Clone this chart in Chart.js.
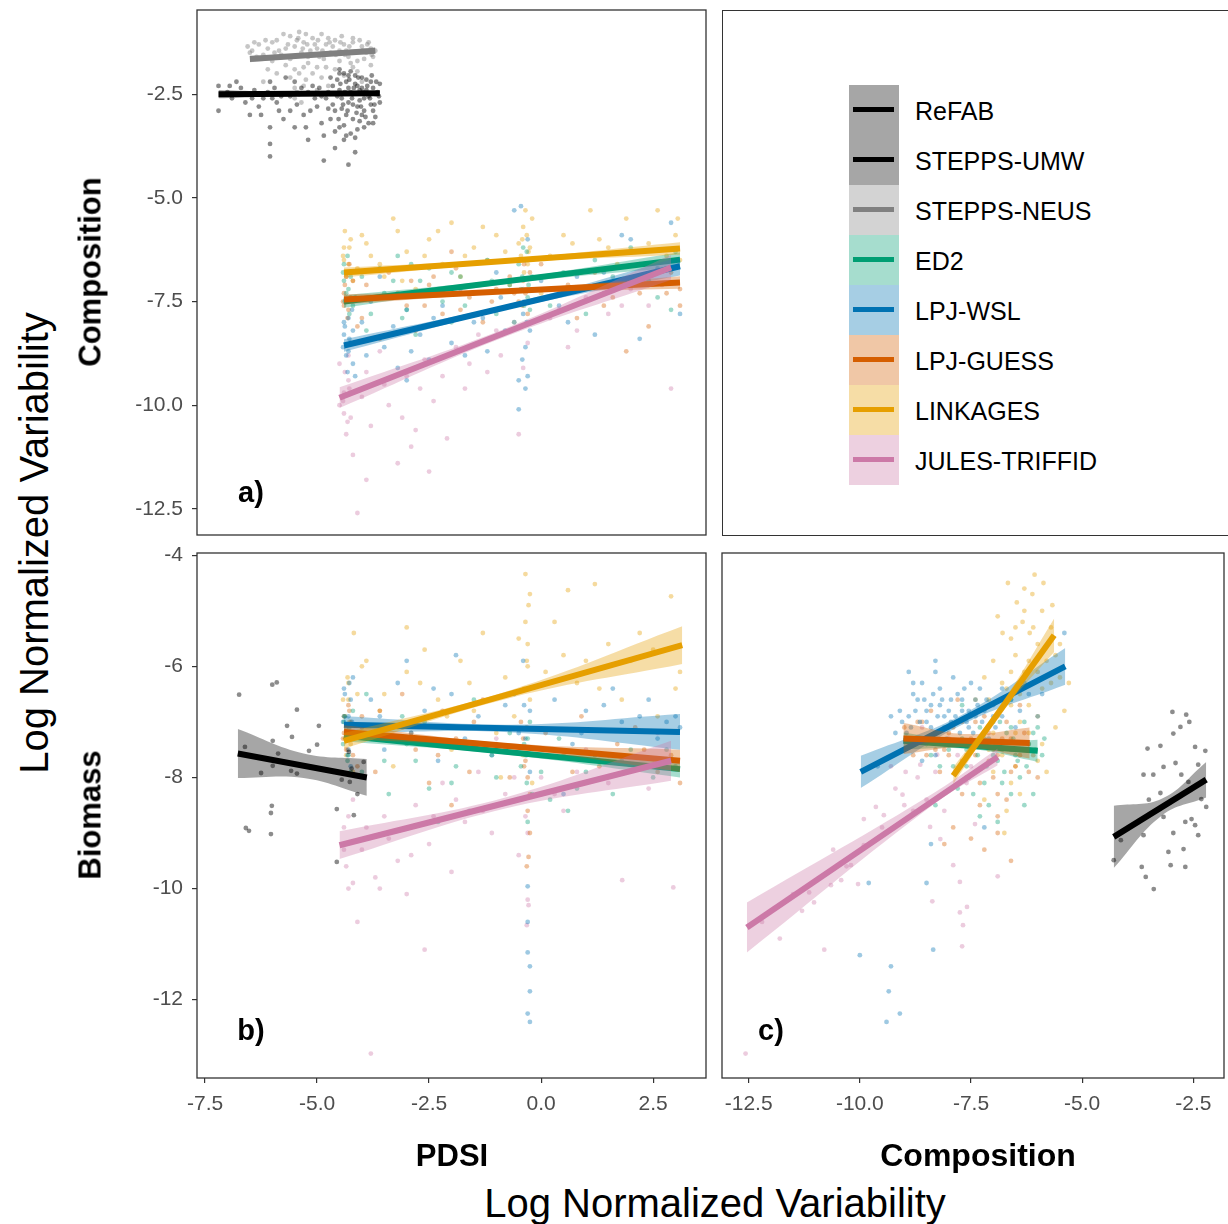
<!DOCTYPE html>
<html>
<head>
<meta charset="utf-8">
<script src="https://cdn.jsdelivr.net/npm/chart.js@4.4.1/dist/chart.umd.min.js"></script>
<style>
  body { margin: 0; background: #fff; font-family: "Liberation Sans", Arial, sans-serif; }
  #wrap { position: relative; width: 1228px; height: 1224px; overflow: hidden; }
  canvas { position: absolute; }
  .txt { position: absolute; white-space: nowrap; line-height: 1; transform: translate(-50%, -50%); }
  .rot { transform: translate(-50%, -50%) rotate(-90deg); }
  .bold { font-weight: bold; color: #000; }
  .key { position: absolute; width: 50px; height: 50px; }
  .key div { position: absolute; left: 4px; top: 22px; width: 41px; height: 5px; }
  .lab { position: absolute; font-size: 25px; line-height: 1; transform: translateY(-50%); color: #000; }
</style>
</head>
<body>
<div id="wrap">
  <canvas id="chartA" width="610" height="540" style="left:100px;top:0px"></canvas>
  <canvas id="chartB" width="610" height="600" style="left:100px;top:540px"></canvas>
  <canvas id="chartC" width="513" height="600" style="left:715px;top:540px"></canvas>
  <div style="position:absolute;left:722px;top:10px;width:520px;height:524px;border:1.3px solid #333"></div>
  <div id="legend"></div>

  <div class="txt rot" style="left:34px;top:543px;font-size:40px">Log Normalized Variability</div>
  <div class="txt rot bold" style="left:90px;top:272px;font-size:31px">Composition</div>
  <div class="txt rot bold" style="left:90px;top:815px;font-size:31px">Biomass</div>
  <div class="txt bold" style="left:452px;top:1155px;font-size:31px">PDSI</div>
  <div class="txt bold" style="left:978px;top:1155px;font-size:32px">Composition</div>
  <div class="txt" style="left:715px;top:1203px;font-size:40px">Log Normalized Variability</div>
  <div class="txt bold" style="left:251px;top:492px;font-size:29px">a)</div>
  <div class="txt bold" style="left:251px;top:1030px;font-size:29px">b)</div>
  <div class="txt bold" style="left:771px;top:1030px;font-size:29px">c)</div>
</div>
<script>
// legend order and colours
const seriesNames = ['ReFAB', 'STEPPS-UMW', 'STEPPS-NEUS', 'ED2', 'LPJ-WSL', 'LPJ-GUESS', 'LINKAGES', 'JULES-TRIFFID'];
const colors = {
  'ReFAB': '#000000', 'STEPPS-UMW': '#000000', 'STEPPS-NEUS': '#808080',
  'ED2': '#009E73', 'LPJ-WSL': '#0072B2', 'LPJ-GUESS': '#D55E00',
  'LINKAGES': '#E69F00', 'JULES-TRIFFID': '#CC79A7'
};

// axes
const pdsiTicks = [-7.5, -5, -2.5, 0, 2.5];
const compXTicks = [-12.5, -10, -7.5, -5, -2.5];
const compYTicks = [-12.5, -10, -7.5, -5, -2.5];
const bioYTicks = [-12, -10, -8, -6, -4];
const pdsiRange = [-7.68, 3.68];
const compXRange = [-13.1, -1.81];
const compYRange = [-13.13, -0.47];
const bioYRange = [-13.41, -3.96];

// ---- panel a: composition vs PDSI ----
const aNeus = [[-6.5,-1.5],[-6.3,-1.3],[-6.1,-1.4],[-5.9,-1.2],[-5.8,-1.55],[-5.6,-1.1],[-5.5,-1.35],[-5.4,-1.0],[-5.3,-1.25],[-5.2,-1.6],[-5.1,-1.15],[-5.0,-1.4],[-4.9,-1.05],[-4.8,-1.3],[-4.7,-1.5],[-4.6,-1.2],[-4.5,-1.45],[-4.4,-1.3],[-4.3,-1.6],[-4.2,-1.25],[-4.1,-1.7],[-4.0,-1.35],[-3.9,-1.5],[-3.8,-1.4],[-5.7,-1.8],[-5.4,-2.0],[-5.3,-2.3],[-5.5,-2.6],[-4.9,-2.1],[-4.6,-1.9],[-6.0,-1.7],[-6.4,-1.25],[-4.2,-1.15],[-3.75,-1.6],[-5.0,-2.4],[-6.2,-2.2],[-5.75,-1.05],[-5.15,-1.45],
  [-6.55,-1.35],[-6.2,-1.55],[-6.0,-1.25],[-5.85,-1.45],[-5.65,-1.3],[-5.45,-1.2],[-5.35,-1.5],[-5.25,-1.05],[-5.05,-1.3],[-4.95,-1.6],[-4.75,-1.15],[-4.65,-1.35],[-4.45,-1.1],[-4.35,-1.45],[-4.25,-1.75],[-4.05,-1.2],[-3.95,-1.65],[-3.85,-1.25],[-3.7,-1.45],[-5.6,-2.1],[-5.3,-1.85],[-5.1,-2.0],[-4.8,-1.85],[-4.4,-2.05],[-4.1,-1.95],[-5.5,-2.35],[-5.35,-2.7],[-4.75,-2.3],[-5.9,-2.0],[-6.1,-1.9],[-4.0,-2.2],[-3.8,-1.8],
  [-6.45,-1.45],[-6.35,-1.6],[-6.15,-1.2],[-5.95,-1.5],[-5.7,-1.4],[-5.55,-1.6],[-5.42,-1.15],[-5.32,-1.4],[-5.22,-1.3],[-5.12,-1.55],[-4.98,-1.2],[-4.88,-1.45],[-4.72,-1.25],[-4.58,-1.55],[-4.48,-1.25],[-4.38,-1.55],[-4.28,-1.35],[-4.15,-1.5],[-3.98,-1.45],[-3.88,-1.3],[-3.78,-1.55],[-5.5,-1.9],[-5.25,-2.15],[-5.45,-2.45],[-5.2,-1.75],[-4.85,-1.65],[-4.5,-1.7],[-5.6,-1.65],[-5.0,-1.85],[-4.2,-1.85]];
const aUmw = [[-7.2,-2.3],[-7.2,-2.9],[-6.8,-2.2],[-6.6,-2.7],[-6.5,-3.0],[-6.4,-2.4],[-6.2,-2.6],[-6.05,-2.2],[-6.05,-3.3],[-6.05,-3.7],[-6.05,-4.0],[-5.9,-2.7],[-5.7,-2.1],[-5.6,-2.9],[-5.4,-2.5],[-5.3,-3.0],[-5.1,-2.3],[-5.0,-2.8],[-4.9,-3.2],[-4.8,-2.6],[-4.7,-2.1],[-4.6,-2.9],[-4.5,-2.4],[-4.5,-3.3],[-4.4,-2.0],[-4.4,-3.6],[-4.35,-2.2],[-4.3,-2.7],[-4.25,-1.95],[-4.2,-2.5],[-4.2,-3.1],[-4.15,-3.9],[-4.1,-2.3],[-4.1,-2.8],[-4.0,-2.1],[-4.0,-3.0],[-3.95,-2.6],[-3.9,-2.4],[-3.85,-3.2],[-3.8,-2.2],[-3.75,-2.9],[-3.7,-2.5],[-3.6,-2.7],[-4.85,-3.5],[-4.85,-4.1],[-4.6,-3.8],[-4.3,-4.2],[-5.2,-3.6],[-4.5,-1.9],[-4.15,-2.05],[-4.05,-2.4],[-4.3,-2.35],
  [-7.0,-2.45],[-6.9,-2.6],[-6.7,-2.35],[-6.3,-2.8],[-6.1,-2.45],[-5.95,-2.35],[-5.8,-2.55],[-5.5,-2.2],[-5.45,-2.75],[-5.2,-2.45],[-5.15,-2.9],[-4.95,-2.35],[-4.75,-2.45],[-4.65,-2.75],[-4.55,-2.15],[-4.45,-2.6],[-4.45,-2.85],[-4.35,-3.0],[-4.3,-2.05],[-4.25,-2.45],[-4.2,-2.75],[-4.15,-2.25],[-4.1,-3.35],[-4.05,-2.65],[-4.0,-2.35],[-3.95,-2.9],[-3.9,-2.15],[-3.85,-2.55],[-3.8,-2.75],[-3.75,-2.35],[-3.7,-3.05],[-3.65,-2.45],[-3.6,-2.25],[-4.4,-3.25],[-4.25,-3.45],[-4.05,-3.15],[-4.6,-3.4],[-4.5,-2.0],
  [-4.55,-2.55],[-4.48,-2.25],[-4.42,-2.75],[-4.38,-2.45],[-4.32,-2.9],[-4.28,-2.15],[-4.22,-2.6],[-4.18,-2.35],[-4.12,-2.95],[-4.08,-2.1],[-4.02,-2.8],[-3.98,-2.45],[-3.92,-3.05],[-3.88,-2.3],[-3.82,-2.6],[-3.78,-2.05],[-3.72,-2.75],[-3.68,-2.2],[-3.62,-2.55],[-4.52,-3.1],[-4.35,-3.5],[-4.15,-3.55],[-3.95,-3.3],[-3.75,-3.2],[-4.65,-2.3],[-4.75,-2.85],[-4.9,-2.55],[-5.05,-2.6],[-5.35,-2.35],[-5.6,-2.55],[-5.85,-2.9],[-6.0,-2.6],[-6.45,-2.6],[-6.65,-2.5],[-6.95,-2.3],[-5.75,-3.1],[-5.25,-3.3],[-4.7,-3.1],[-6.25,-3.0],[-5.5,-3.3]];
const aEd2 = [[-4.4,-6.6],[-4.3,-7.2],[-4.2,-7.6],[-4.0,-6.9],[-3.8,-7.8],[-3.5,-7.3],[-3.2,-6.4],[-3.0,-7.7],[-2.7,-7.0],[-2.5,-6.7],[-2.2,-7.5],[-2.0,-8.0],[-1.8,-6.9],[-1.5,-7.3],[-1.2,-6.5],[-1.0,-7.8],[-0.7,-7.1],[-0.5,-6.6],[-0.4,-6.2],[-0.3,-7.4],[-0.2,-6.9],[0.2,-7.6],[0.5,-6.8],[0.9,-7.2],[1.2,-6.5],[1.6,-6.9],[2.0,-6.2],[2.4,-7.0],[2.8,-6.7],[3.0,-6.3],[-4.4,-7.0],[-3.9,-8.2],[-2.8,-8.3],[-0.6,-8.0],[1.0,-7.8],[2.9,-7.7],
  [-4.35,-7.3],[-4.25,-6.9],[-4.15,-7.4],[-3.6,-6.7],[-3.3,-7.0],[-2.9,-6.6],[-2.4,-7.3],[-1.7,-7.6],[-1.1,-7.0],[-0.45,-7.2],[-0.35,-6.5],[-0.25,-7.7],[0.7,-6.4],[1.4,-7.3],[2.2,-6.6],[2.6,-7.4],[-3.1,-7.9],[-2.0,-6.8],
  [-4.42,-6.8],[-4.38,-7.5],[-4.32,-6.4],[-4.28,-7.8],[-0.42,-6.9],[-0.38,-7.6],[-0.32,-6.3],[-0.28,-7.1]];
const aWsl = [[-4.4,-8.3],[-4.35,-8.8],[-4.3,-7.9],[-4.25,-8.5],[-4.2,-9.0],[-4.0,-8.0],[-3.8,-7.5],[-3.5,-8.6],[-3.2,-9.1],[-3.0,-7.7],[-2.7,-8.3],[-2.5,-8.9],[-2.2,-7.6],[-2.0,-8.5],[-1.8,-7.2],[-1.5,-8.0],[-1.2,-8.7],[-0.9,-7.4],[-0.6,-5.3],[-0.45,-5.2],[-0.4,-7.8],[-0.35,-8.6],[-0.3,-9.3],[-0.35,-9.6],[-0.5,-9.4],[0.0,-7.0],[0.4,-7.6],[0.8,-6.9],[1.2,-8.3],[1.6,-7.2],[2.0,-6.0],[2.2,-8.4],[2.6,-6.7],[2.9,-5.6],[3.1,-7.8],[-1.0,-6.8],[-3.6,-6.9],[1.8,-5.9],
  [-4.4,-8.0],[-4.3,-8.7],[-4.2,-8.2],[-4.15,-9.3],[-3.9,-8.8],[-3.3,-8.1],[-2.9,-8.7],[-2.4,-7.9],[-1.7,-8.8],[-1.3,-7.9],[-0.8,-8.2],[-0.4,-7.2],[-0.3,-6.0],[-0.25,-8.2],[0.6,-8.0],[1.4,-6.8],[2.4,-7.1],[-3.0,-9.4],[-0.5,-10.1],
  [-4.42,-8.6],[-4.38,-8.1],[-4.32,-9.2],[-4.28,-8.4],[-4.22,-7.7],[-0.42,-8.9],[-0.38,-7.5],[-0.32,-8.0]];
const aGuess = [[-4.4,-7.3],[-4.3,-7.7],[-4.2,-7.0],[-4.0,-7.9],[-3.7,-7.4],[-3.4,-6.8],[-3.0,-7.6],[-2.8,-8.2],[-2.5,-7.1],[-2.2,-7.8],[-1.9,-6.7],[-1.6,-7.4],[-1.3,-8.0],[-1.0,-7.2],[-0.7,-6.9],[-0.5,-7.5],[-0.4,-7.0],[-0.3,-7.8],[0.0,-6.6],[0.4,-7.3],[0.8,-7.9],[1.2,-6.8],[1.6,-7.4],[2.0,-7.0],[2.4,-8.1],[2.8,-7.3],[3.1,-7.2],[1.9,-8.7],[-3.6,-8.4],[-2.0,-6.3],
  [-4.4,-7.6],[-4.35,-6.9],[-4.25,-7.4],[-4.1,-8.1],[-3.9,-7.1],[-3.2,-7.3],[-2.6,-7.6],[-2.4,-6.9],[-1.8,-7.7],[-1.1,-7.5],[-0.6,-7.3],[-0.35,-7.3],[-0.25,-6.8],[0.6,-7.1],[1.4,-7.6],[2.2,-7.3],[2.9,-6.8],[3.1,-7.6],[-2.9,-7.0],
  [-4.42,-7.5],[-4.38,-7.1],[-4.32,-7.9],[-4.28,-6.6],[-0.42,-7.6],[-0.38,-6.6],[-0.32,-7.2]];
const aLink = [[-4.4,-6.2],[-4.3,-6.6],[-4.2,-7.0],[-4.0,-5.9],[-3.8,-6.4],[-3.5,-6.9],[-3.2,-5.8],[-3.0,-6.3],[-2.8,-7.2],[-2.5,-6.0],[-2.2,-6.6],[-2.0,-5.6],[-1.8,-6.9],[-1.5,-6.2],[-1.2,-6.5],[-1.0,-5.9],[-0.7,-7.1],[-0.5,-6.1],[-0.4,-5.7],[-0.3,-6.6],[-0.2,-5.5],[0.2,-6.4],[0.5,-5.9],[0.9,-6.8],[1.1,-5.3],[1.5,-6.2],[1.9,-5.5],[2.3,-6.6],[2.6,-5.3],[3.0,-5.9],[3.1,-6.5],[-3.3,-5.5],[0.0,-7.3],[2.0,-7.1],
  [-4.4,-6.5],[-4.35,-6.9],[-4.25,-6.0],[-4.1,-6.7],[-3.9,-6.1],[-3.6,-6.6],[-3.1,-7.0],[-2.6,-6.4],[-2.3,-5.8],[-1.7,-6.4],[-1.3,-5.7],[-0.8,-6.3],[-0.45,-6.4],[-0.35,-5.3],[-0.25,-6.2],[0.7,-6.1],[1.3,-6.0],[1.7,-6.6],[2.4,-6.1],[2.8,-6.4],[3.05,-5.5],
  [-4.42,-6.4],[-4.38,-5.8],[-4.32,-6.8],[-4.28,-6.2],[-0.42,-6.0],[-0.38,-6.8],[-0.32,-5.9],[-0.28,-6.3]];
const aJules = [[-4.5,-9.0],[-4.4,-10.2],[-4.35,-10.7],[-4.3,-9.4],[-4.2,-11.2],[-4.0,-9.8],[-3.8,-10.5],[-3.6,-8.7],[-3.4,-10.0],[-3.2,-11.4],[-3.0,-9.3],[-2.8,-10.6],[-2.6,-8.9],[-2.4,-9.9],[-2.1,-10.8],[-1.9,-8.6],[-1.7,-9.6],[-1.4,-8.3],[-1.2,-9.2],[-0.9,-8.8],[-0.6,-8.0],[-0.5,-10.7],[-0.3,-8.5],[0.2,-7.9],[0.6,-8.6],[1.0,-7.4],[1.5,-7.8],[2.0,-7.2],[2.4,-7.6],[2.9,-9.6],[-4.1,-12.6],[-3.9,-11.8],[-4.5,-10.0],[-2.5,-11.6],
  [-4.4,-9.7],[-4.3,-8.8],[-4.25,-10.3],[-3.9,-9.2],[-3.5,-9.5],[-3.1,-10.3],[-2.7,-9.6],[-2.2,-9.3],[-1.6,-9.0],[-1.0,-8.2],[-0.4,-9.1],[0.4,-7.7],[0.8,-8.2],[1.8,-7.6],[2.7,-7.1],[-2.9,-11.0],
  [-4.42,-9.9],[-4.38,-9.2],[-4.32,-10.4],[-4.28,-9.6]];
// fitted lines: name, x0, y0, x1, y1
const fitsA = [
  ['STEPPS-UMW', -7.2, -2.5, -3.6, -2.48],
  ['STEPPS-NEUS', -6.5, -1.65, -3.7, -1.45],
  ['ED2', -4.4, -7.5, 3.1, -6.49],
  ['LPJ-WSL', -4.4, -8.56, 3.1, -6.65],
  ['LPJ-GUESS', -4.4, -7.45, 3.1, -7.04],
  ['LINKAGES', -4.4, -6.8, 3.1, -6.22],
  ['JULES-TRIFFID', -4.5, -9.82, 2.9, -6.68]
];
// confidence bands: name, x, lower, upper
const bandsA = [
  ['STEPPS-UMW', [-7.2, -5.4, -3.6], [-2.6, -2.53, -2.53], [-2.4, -2.45, -2.43]],
  ['STEPPS-NEUS', [-6.5, -5.1, -3.7], [-1.73, -1.59, -1.53], [-1.57, -1.51, -1.37]],
  ['ED2', [-4.4, -0.65, 3.1], [-7.65, -7.06, -6.67], [-7.35, -6.94, -6.31]],
  ['LPJ-WSL', [-4.4, -0.65, 3.1], [-8.71, -7.66, -6.87], [-8.41, -7.54, -6.43]],
  ['LPJ-GUESS', [-4.4, -0.65, 3.1], [-7.57, -7.3, -7.19], [-7.33, -7.2, -6.89]],
  ['LINKAGES', [-4.4, -0.65, 3.1], [-6.92, -6.56, -6.37], [-6.68, -6.46, -6.07]],
  ['JULES-TRIFFID', [-4.5, -0.8, 2.9], [-10.07, -8.35, -6.98], [-9.57, -8.15, -6.38]]
];

// ---- panel b: biomass vs PDSI ----
const bRefab = [[-6.74,-6.51],[-6.0,-6.33],[-5.9,-6.29],[-5.45,-6.78],[-5.67,-7.07],[-4.96,-7.07],[-6.61,-7.45],[-5.99,-7.34],[-5.56,-7.27],[-5.0,-7.41],[-6.25,-7.92],[-5.99,-7.79],[-5.58,-7.88],[-5.45,-7.93],[-5.18,-7.52],[-5.87,-7.57],[-6.01,-8.51],[-6.03,-8.64],[-6.03,-9.02],[-6.59,-8.91],[-6.52,-8.96],[-4.56,-8.57],[-4.56,-9.52],[-4.27,-8.08],[-4.18,-8.68],[-4.45,-8.04],[-4.23,-7.84],[-3.96,-7.72],[-4.29,-7.54],[-4.1,-8.3],[-4.35,-7.3]];
const bEd2 = [[-4.4,-7.0],[-4.3,-7.6],[-4.2,-6.8],[-4.0,-7.9],[-3.7,-7.3],[-3.4,-8.3],[-3.1,-6.9],[-2.8,-7.7],[-2.5,-8.2],[-2.2,-7.1],[-1.9,-7.8],[-1.6,-8.6],[-1.3,-7.4],[-1.0,-8.0],[-0.7,-7.2],[-0.5,-8.4],[-0.35,-7.6],[-0.3,-8.8],[-0.25,-7.0],[0.0,-7.9],[0.4,-7.3],[0.8,-8.2],[1.2,-7.6],[1.6,-8.3],[2.0,-7.5],[2.5,-8.0],[3.0,-7.8],[-3.9,-6.5],[-1.5,-6.6],[0.6,-8.6],
  [-4.35,-7.3],[-4.25,-7.9],[-4.1,-7.2],[-3.5,-7.7],[-3.0,-7.4],[-2.6,-7.0],[-2.0,-8.1],[-1.1,-7.6],[-0.45,-7.8],[-0.3,-7.3],[-0.2,-8.3],[0.2,-8.4],[1.0,-7.9],[1.8,-7.7],[2.8,-7.5],[-2.3,-8.8],
  [-4.42,-7.4],[-4.38,-6.9],[-4.32,-7.7],[-4.28,-7.1],[-0.38,-7.4],[-0.32,-8.1]];
const bWsl = [[-4.4,-6.4],[-4.35,-7.3],[-4.3,-6.9],[-4.25,-7.8],[-4.2,-6.2],[-4.0,-7.1],[-3.8,-6.6],[-3.5,-7.5],[-3.2,-6.3],[-2.9,-7.2],[-2.6,-6.8],[-2.3,-7.7],[-2.0,-6.5],[-1.7,-7.3],[-1.4,-6.9],[-1.1,-7.6],[-0.8,-6.7],[-0.5,-7.2],[-0.4,-5.9],[-0.3,-6.4],[-0.25,-7.9],[-0.3,-9.96],[-0.3,-11.15],[-0.25,-11.4],[-0.25,-11.85],[-0.3,-12.25],[-0.25,-12.4],[0.3,-6.6],[0.7,-7.4],[1.0,-6.8],[1.4,-6.7],[1.8,-7.0],[2.2,-6.9],[2.6,-7.3],[3.0,-6.9],[3.1,-7.1],[-3.0,-5.9],[-1.9,-5.8],[0.5,-8.3],[2.4,-6.6],
  [-4.4,-6.9],[-4.3,-7.5],[-4.25,-6.6],[-4.2,-7.2],[-3.6,-6.9],[-3.1,-7.1],[-2.4,-6.4],[-1.5,-7.1],[-0.6,-6.5],[-0.35,-7.3],[-0.25,-6.8],[0.9,-7.2],[1.6,-6.4],[2.8,-7.0],[-0.3,-10.6],
  [-4.42,-7.0],[-4.38,-6.5],[-4.32,-7.6],[-4.28,-6.3],[-4.22,-7.0],[-0.38,-6.7],[-0.32,-7.6]];
const bGuess = [[-4.4,-7.2],[-4.3,-6.7],[-4.2,-7.6],[-4.0,-6.9],[-3.7,-7.9],[-3.4,-7.1],[-3.1,-6.5],[-2.8,-7.5],[-2.5,-8.1],[-2.2,-6.8],[-1.9,-7.3],[-1.6,-7.9],[-1.3,-6.6],[-1.0,-7.4],[-0.7,-8.0],[-0.45,-7.0],[-0.35,-7.7],[-0.3,-8.6],[-0.25,-9.0],[-0.28,-9.43],[-0.32,-9.6],[0.1,-7.2],[0.5,-7.6],[0.9,-6.9],[1.3,-7.8],[1.7,-7.4],[2.1,-7.1],[2.6,-7.9],[3.1,-8.1],[-2.0,-8.5],
  [-4.35,-7.5],[-4.25,-7.0],[-4.1,-7.8],[-3.6,-6.8],[-2.9,-7.2],[-2.3,-7.6],[-1.5,-7.0],[-0.8,-7.5],[-0.4,-7.3],[-0.3,-8.0],[-0.25,-8.3],[0.7,-7.9],[1.5,-7.6],[2.3,-7.5],[2.9,-7.6],
  [-4.42,-7.3],[-4.38,-6.9],[-4.32,-7.5],[-4.28,-6.8],[-0.38,-7.8],[-0.32,-7.1]];
const bLink = [[-4.4,-6.9],[-4.35,-7.6],[-4.3,-6.3],[-4.2,-7.9],[-4.0,-6.0],[-3.9,-5.9],[-3.7,-7.2],[-3.5,-6.5],[-3.3,-7.8],[-3.0,-6.1],[-2.8,-7.0],[-2.6,-5.7],[-2.3,-6.6],[-2.0,-7.5],[-1.8,-5.9],[-1.5,-6.8],[-1.3,-5.4],[-1.0,-7.2],[-0.8,-6.2],[-0.5,-5.5],[-0.4,-7.6],[-0.35,-4.34],[-0.25,-4.7],[-0.3,-6.0],[-0.2,-8.1],[0.3,-5.2],[0.6,-4.63],[0.8,-6.3],[1.2,-4.52],[1.5,-5.6],[1.8,-6.6],[2.2,-5.4],[2.6,-6.9],[2.9,-4.74],[3.0,-6.4],[1.0,-5.9],[-3.0,-5.3],[-0.9,-8.0],[-4.18,-5.4],
  [-4.35,-7.1],[-4.3,-6.6],[-4.25,-7.4],[-4.1,-6.5],[-3.6,-6.8],[-3.2,-7.1],[-2.7,-6.3],[-2.1,-6.9],[-1.6,-6.3],[-1.1,-6.6],[-0.6,-6.9],[-0.35,-5.2],[-0.3,-5.6],[-0.25,-6.6],[0.1,-6.1],[0.5,-5.8],[1.3,-6.4],[2.0,-5.9],[2.5,-5.7],[3.1,-6.1],
  [-4.42,-6.6],[-4.38,-7.3],[-4.32,-6.2],[-4.28,-7.0],[-0.38,-6.4],[-0.32,-5.9],[-0.28,-4.9]];
const bJules = [[-4.4,-8.9],[-4.35,-9.6],[-4.3,-10.0],[-4.2,-8.4],[-4.0,-9.3],[-3.8,-12.97],[-3.7,-9.8],[-3.5,-8.7],[-3.2,-9.5],[-3.0,-10.1],[-2.8,-8.5],[-2.5,-9.2],[-2.2,-8.1],[-2.0,-9.7],[-1.7,-8.8],[-1.4,-7.9],[-1.1,-9.0],[-0.8,-8.3],[-0.5,-9.4],[-0.35,-8.7],[-0.3,-10.2],[-0.32,-10.66],[-0.28,-10.3],[0.0,-8.0],[0.5,-8.6],[1.0,-7.5],[1.5,-8.1],[1.81,-9.85],[2.2,-7.8],[2.95,-9.98],[2.6,-7.2],[-2.6,-11.1],[-4.1,-10.6],[-1.0,-7.3],
  [-4.4,-9.3],[-4.3,-8.7],[-4.2,-9.9],[-3.9,-8.9],[-3.4,-9.1],[-2.9,-9.4],[-2.4,-8.7],[-1.9,-8.4],[-1.3,-8.6],[-0.6,-8.0],[-0.3,-9.0],[0.3,-8.3],[0.8,-7.9],[1.3,-7.7],[2.4,-8.2],[-3.6,-10.0]];
const fitsB = [
  ['ReFAB', -6.77, -7.57, -3.89, -8.0],
  ['ED2', -4.4, -7.25, 3.1, -7.85],
  ['LPJ-WSL', -4.4, -7.05, 3.1, -7.18],
  ['LPJ-GUESS', -4.4, -7.18, 3.1, -7.7],
  ['LINKAGES', -4.4, -7.34, 3.15, -5.62],
  ['JULES-TRIFFID', -4.5, -9.22, 2.9, -7.7]
];
const bandsB = [
  ['ReFAB', [-6.77, -5.3, -3.89], [-8.01, -8.01, -8.33], [-7.13, -7.57, -7.67]],
  ['ED2', [-4.4, -0.65, 3.1], [-7.35, -7.6, -8.0], [-7.15, -7.5, -7.7]],
  ['LPJ-WSL', [-4.4, -0.65, 3.1], [-7.2, -7.19, -7.5], [-6.9, -7.05, -6.86]],
  ['LPJ-GUESS', [-4.4, -0.65, 3.1], [-7.3, -7.49, -7.9], [-7.06, -7.39, -7.5]],
  ['LINKAGES', [-4.4, -0.65, 3.15], [-7.48, -6.56, -5.96], [-7.2, -6.42, -5.28]],
  ['JULES-TRIFFID', [-4.5, -0.8, 2.9], [-9.47, -8.56, -8.06], [-8.97, -8.36, -7.34]]
];

// ---- panel c: biomass vs composition ----
const cUmw = [[-2.97,-6.82],[-2.66,-6.87],[-2.79,-7.09],[-2.95,-7.21],[-2.59,-7.0],[-3.53,-7.48],[-3.24,-7.43],[-2.46,-7.45],[-2.23,-7.52],[-2.9,-7.74],[-3.17,-7.81],[-3.62,-7.95],[-3.4,-7.95],[-2.77,-7.95],[-2.39,-7.77],[-2.61,-8.08],[-3.24,-8.28],[-3.5,-8.4],[-2.32,-8.39],[-2.21,-8.53],[-2.54,-8.75],[-3.17,-8.71],[-2.68,-8.8],[-2.39,-9.04],[-2.95,-9.0],[-3.62,-9.04],[-4.13,-9.13],[-2.72,-9.29],[-3.06,-9.34],[-4.29,-9.49],[-3.66,-9.61],[-3.01,-9.58],[-2.68,-9.61],[-3.57,-9.79],[-3.39,-10.01],[-2.46,-8.86]];
const cEd2 = [[-8.5,-7.4],[-8.2,-7.8],[-8.0,-7.1],[-7.8,-8.2],[-7.6,-7.5],[-7.5,-6.9],[-7.4,-7.9],[-7.2,-7.3],[-7.1,-8.5],[-7.0,-7.0],[-6.9,-7.7],[-6.8,-8.1],[-6.7,-7.2],[-6.5,-7.6],[-6.4,-8.0],[-6.3,-7.0],[-6.2,-7.4],[-6.1,-8.3],[-6.0,-7.1],[-5.9,-7.6],[-7.7,-6.7],[-6.6,-6.6],[-7.3,-8.7],[-6.9,-8.8],[-8.3,-8.5],
  [-8.4,-7.6],[-8.1,-7.4],[-7.9,-7.8],[-7.7,-7.3],[-7.55,-8.0],[-7.35,-7.6],[-7.15,-7.8],[-6.95,-7.4],[-6.75,-7.9],[-6.55,-7.3],[-6.45,-7.7],[-6.25,-7.8],[-6.05,-7.5],[-5.85,-7.3],[-6.85,-7.0],[-7.45,-8.3],
  [-8.0,-7.5],[-7.8,-7.0],[-7.6,-7.8],[-7.3,-7.1],[-7.0,-7.6],[-6.8,-7.5],[-6.6,-7.1],[-6.3,-7.5],[-6.1,-7.2],[-7.2,-8.1],[-6.6,-8.3],[-6.3,-8.5]];
const cWsl = [[-9.2,-7.2],[-9.0,-7.5],[-8.9,-6.9],[-8.8,-6.5],[-8.7,-7.3],[-8.6,-6.3],[-8.5,-7.0],[-8.4,-6.7],[-8.3,-7.6],[-8.2,-6.4],[-8.1,-7.1],[-8.0,-6.8],[-7.9,-6.2],[-7.8,-7.4],[-7.7,-6.6],[-7.6,-7.0],[-7.4,-6.9],[-7.3,-6.4],[-7.1,-7.3],[-7.0,-6.7],[-6.8,-6.9],[-6.6,-7.5],[-6.4,-6.8],[-6.2,-6.5],[-5.9,-6.5],[-5.4,-5.4],[-9.6,-7.8],[-8.6,-7.7],[-9.4,-12.4],[-9.1,-12.25],[-9.35,-11.85],[-9.3,-11.4],[-10.0,-11.2],[-8.35,-11.1],[-8.5,-9.9],[-9.8,-9.9],[-8.4,-9.2],[-7.2,-8.9],[-8.9,-6.1],[-8.3,-5.9],
  [-9.1,-6.8],[-8.95,-7.2],[-8.75,-6.8],[-8.65,-7.0],[-8.55,-6.6],[-8.45,-7.3],[-8.35,-6.5],[-8.25,-6.9],[-8.15,-6.6],[-8.05,-7.3],[-7.95,-6.6],[-7.85,-6.9],[-7.75,-7.2],[-7.65,-6.4],[-7.55,-6.8],[-7.45,-7.2],[-7.35,-6.7],[-7.25,-7.0],[-7.15,-6.6],[-6.95,-7.1],[-6.7,-6.6],[-6.5,-7.1],[-6.3,-6.3],[-6.0,-6.9],[-5.6,-6.1],
  [-9.05,-7.0],[-8.85,-7.1],[-8.7,-6.6],[-8.5,-6.8],[-8.4,-7.1],[-8.2,-6.7],[-8.1,-6.9],[-7.95,-7.0],[-7.8,-6.5],[-7.7,-6.8],[-7.55,-7.1],[-7.4,-6.6],[-7.2,-6.8],[-7.0,-6.9],[-6.8,-6.4],[-6.6,-6.6],[-8.8,-6.3],[-8.3,-6.1],[-7.5,-6.3],[-9.3,-6.9]];
const cGuess = [[-9.0,-7.1],[-8.8,-7.6],[-8.6,-7.3],[-8.4,-6.8],[-8.2,-7.9],[-8.0,-7.2],[-7.8,-6.6],[-7.7,-7.7],[-7.5,-7.3],[-7.3,-8.1],[-7.2,-6.9],[-7.0,-7.5],[-6.9,-8.3],[-6.7,-7.0],[-6.5,-7.8],[-6.4,-6.7],[-6.2,-7.4],[-6.0,-8.0],[-7.5,-9.1],[-7.2,-9.3],[-6.9,-9.0],[-7.9,-8.9],[-8.1,-9.2],[-6.6,-9.5],
  [-8.9,-7.4],[-8.7,-7.0],[-8.5,-7.6],[-8.3,-7.2],[-8.1,-7.5],[-7.9,-7.1],[-7.6,-7.6],[-7.4,-7.0],[-7.1,-7.7],[-6.8,-7.3],[-6.6,-7.9],[-6.3,-7.2],[-6.1,-7.6],[-7.3,-8.5],[-6.9,-8.7],[-7.7,-8.3],
  [-8.6,-7.0],[-8.3,-7.5],[-8.0,-7.6],[-7.7,-7.0],[-7.4,-7.6],[-7.1,-7.2],[-6.9,-7.6],[-6.6,-7.3],[-6.4,-7.6],[-6.2,-7.9],[-7.0,-8.0],[-7.6,-8.0],[-6.7,-8.4]];
const cLink = [[-6.07,-4.35],[-6.67,-4.5],[-5.87,-4.5],[-6.47,-4.85],[-5.67,-4.9],[-6.12,-4.7],[-6.18,-5.4],[-6.79,-5.4],[-6.34,-5.2],[-5.5,-5.6],[-5.8,-5.9],[-6.5,-5.8],[-7.0,-5.9],[-7.2,-6.2],[-6.8,-6.3],[-6.3,-6.1],[-5.9,-6.4],[-6.6,-6.7],[-7.4,-6.6],[-6.0,-6.9],[-6.4,-7.0],[-7.0,-7.2],[-5.6,-7.1],[-6.2,-7.5],[-6.8,-7.6],[-5.8,-7.9],[-6.6,-8.1],[-6.7,-8.6],[-6.75,-9.0],[-7.2,-8.4],[-5.4,-6.8],
  [-6.5,-5.3],[-6.0,-5.6],[-5.7,-5.3],[-6.2,-5.9],[-6.6,-6.1],[-7.1,-6.6],[-6.4,-6.5],[-5.7,-6.3],[-6.9,-6.9],[-6.2,-7.2],[-5.9,-7.4],[-6.5,-7.8],[-7.0,-7.9],[-5.5,-6.2],[-6.9,-5.1],[-6.3,-4.6],
  [-6.3,-5.0],[-6.1,-5.3],[-5.9,-5.0],[-6.6,-5.5],[-6.0,-6.1],[-6.7,-6.4],[-6.2,-6.7],[-6.5,-7.2],[-6.0,-7.7],[-6.4,-8.3],[-7.1,-7.5],[-5.6,-5.8],[-5.3,-6.3]];
const cJules = [[-12.57,-12.97],[-12.2,-10.6],[-11.8,-10.9],[-11.5,-10.1],[-11.14,-10.07],[-11.03,-10.25],[-10.8,-11.1],[-10.65,-9.94],[-10.42,-9.85],[-10.2,-9.58],[-10.04,-9.92],[-9.91,-8.75],[-9.91,-9.22],[-9.64,-8.53],[-9.46,-8.68],[-9.2,-8.2],[-9.04,-8.31],[-8.97,-7.9],[-8.8,-8.6],[-8.64,-7.77],[-8.42,-8.89],[-8.26,-7.59],[-8.19,-9.11],[-8.37,-10.23],[-8.0,-7.3],[-7.9,-9.58],[-7.75,-9.88],[-7.75,-10.43],[-7.59,-10.33],[-7.68,-10.66],[-7.7,-11.04],[-7.41,-8.84],[-7.5,-7.8],[-7.2,-7.4],[-6.9,-9.78],[-8.6,-7.1],[-9.3,-7.8],
  [-9.0,-8.5],[-8.7,-8.0],[-8.5,-8.4],[-8.3,-7.9],[-8.1,-8.6],[-7.8,-7.6],[-7.6,-8.1],[-9.5,-8.9],[-10.3,-9.6],[-10.6,-9.3],[-11.3,-10.4]];
const fitsC = [
  ['STEPPS-UMW', -4.29, -9.07, -2.21, -8.04],
  ['ED2', -9.02, -7.34, -6.0, -7.52],
  ['LPJ-WSL', -9.98, -7.9, -5.38, -6.0],
  ['LPJ-GUESS', -9.02, -7.3, -6.18, -7.38],
  ['LINKAGES', -7.9, -7.97, -5.63, -5.44],
  ['JULES-TRIFFID', -12.54, -10.7, -6.9, -7.63]
];
const bandsC = [
  ['STEPPS-UMW', [-4.29, -3.2, -2.21], [-9.63, -8.68, -8.36], [-8.51, -8.38, -7.72]],
  ['ED2', [-9.02, -7.5, -6.0], [-7.49, -7.49, -7.72], [-7.19, -7.37, -7.32]],
  ['LPJ-WSL', [-9.98, -7.7, -5.38], [-8.19, -7.05, -6.33], [-7.61, -6.87, -5.67]],
  ['LPJ-GUESS', [-9.02, -7.6, -6.18], [-7.58, -7.46, -7.66], [-7.02, -7.22, -7.1]],
  ['LINKAGES', [-7.9, -6.8, -5.63], [-8.12, -6.82, -5.74], [-7.82, -6.66, -5.14]],
  ['JULES-TRIFFID', [-12.54, -8.3, -6.9], [-11.15, -8.46, -7.78], [-10.25, -8.26, -7.48]]
];

Chart.defaults.font.family = "'Liberation Sans', Arial, sans-serif";

function rgba(hex, a) {
  const n = parseInt(hex.slice(1), 16);
  return `rgba(${n >> 16},${(n >> 8) & 255},${n & 255},${a})`;
}

function buildDatasets(points, fits, bands) {
  const ds = [];
  points.forEach(([name, pts]) => {
    ds.push({
      type: 'scatter',
      data: pts.map(p => ({ x: p[0], y: p[1] })),
      backgroundColor: rgba(colors[name], name.startsWith('STEPPS') || name === 'ReFAB' ? 0.45 : 0.38),
      borderWidth: 0,
      pointRadius: 2.4,
      order: 1000
    });
  });
  // ggplot draws ribbon then line, group by group
  fits.forEach((f, k) => {
    const name = f[0];
    const b = bands.find(bb => bb[0] === name);
    ds.push({
      type: 'line',
      data: b[1].map((x, i) => ({ x: x, y: b[2][i] })),
      borderWidth: 0, pointRadius: 0, tension: 0.4, fill: false, order: 500 - 2 * k
    });
    ds.push({
      type: 'line',
      data: b[1].map((x, i) => ({ x: x, y: b[3][i] })),
      borderWidth: 0, pointRadius: 0, tension: 0.4, fill: '-1',
      backgroundColor: rgba(colors[name], 0.35), order: 500 - 2 * k
    });
    ds.push({
      type: 'line',
      data: [{ x: f[1], y: f[2] }, { x: f[3], y: f[4] }],
      borderColor: colors[name], borderWidth: 6, borderCapStyle: 'butt',
      pointRadius: 0, fill: false, order: 499 - 2 * k
    });
  });
  return ds;
}

const panelBorder = {
  id: 'panelBorder',
  afterDraw(chart) {
    const a = chart.chartArea, ctx = chart.ctx;
    ctx.save();
    ctx.strokeStyle = '#333333';
    ctx.lineWidth = 1.3;
    ctx.strokeRect(a.left, a.top, a.right - a.left, a.bottom - a.top);
    ctx.restore();
  }
};

function axis(range, ticks, show, digits, isX) {
  return {
    type: 'linear',
    display: show,
    min: range[0],
    max: range[1],
    afterBuildTicks: s => { s.ticks = ticks.map(v => ({ value: v })); },
    afterFit: s => {
      if (!show) return;
      if (isX) s.height = 62; else s.width = 97;
      s.paddingTop = 0; s.paddingBottom = 0; s.paddingLeft = 0; s.paddingRight = 0;
    },
    grid: { drawOnChartArea: false, drawTicks: true, tickLength: 5, color: '#333333', lineWidth: 1.2 },
    border: { display: false },
    ticks: {
      color: '#4D4D4D',
      font: { size: 21 },
      padding: isX ? 9 : 9,
      callback: v => (Math.abs(v) < 1e-9 ? 0 : v).toFixed(digits)
    }
  };
}

function makeChart(id, datasets, xAxis, yAxis, padding) {
  return new Chart(document.getElementById(id), {
    type: 'scatter',
    data: { datasets: datasets },
    options: {
      responsive: false,
      animation: false,
      layout: { padding: padding },
      plugins: { legend: { display: false }, tooltip: { enabled: false } },
      scales: { x: xAxis, y: yAxis }
    },
    plugins: [panelBorder]
  });
}

makeChart('chartA',
  buildDatasets([['STEPPS-UMW', aUmw], ['STEPPS-NEUS', aNeus], ['ED2', aEd2], ['LPJ-WSL', aWsl], ['LPJ-GUESS', aGuess], ['LINKAGES', aLink], ['JULES-TRIFFID', aJules]], fitsA, bandsA),
  axis(pdsiRange, pdsiTicks, false, 1, true),
  axis(compYRange, compYTicks, true, 1, false),
  { top: 10, right: 3, bottom: 5, left: 0 });

makeChart('chartB',
  buildDatasets([['ReFAB', bRefab], ['ED2', bEd2], ['LPJ-WSL', bWsl], ['LPJ-GUESS', bGuess], ['LINKAGES', bLink], ['JULES-TRIFFID', bJules]], fitsB, bandsB),
  axis(pdsiRange, pdsiTicks, true, 1, true),
  axis(bioYRange, bioYTicks, true, 0, false),
  { top: 13, right: 3, bottom: 0, left: 0 });

makeChart('chartC',
  buildDatasets([['STEPPS-UMW', cUmw], ['ED2', cEd2], ['LPJ-WSL', cWsl], ['LPJ-GUESS', cGuess], ['LINKAGES', cLink], ['JULES-TRIFFID', cJules]], fitsC, bandsC),
  axis(compXRange, compXTicks, true, 1, true),
  axis(bioYRange, bioYTicks, false, 0, false),
  { top: 13, right: 0, bottom: 0, left: 7 });

// legend in the empty top-right panel
const legend = document.getElementById('legend');
seriesNames.forEach((name, i) => {
  const key = document.createElement('div');
  key.className = 'key';
  key.style.left = '849px';
  key.style.top = (85 + 50 * i) + 'px';
  key.style.background = rgba(colors[name], 0.35);
  const line = document.createElement('div');
  line.style.background = colors[name];
  key.appendChild(line);
  legend.appendChild(key);
  const lab = document.createElement('div');
  lab.className = 'lab';
  lab.style.left = '915px';
  lab.style.top = (111 + 50 * i) + 'px';
  lab.textContent = name;
  legend.appendChild(lab);
});
</script>
</body>
</html>
